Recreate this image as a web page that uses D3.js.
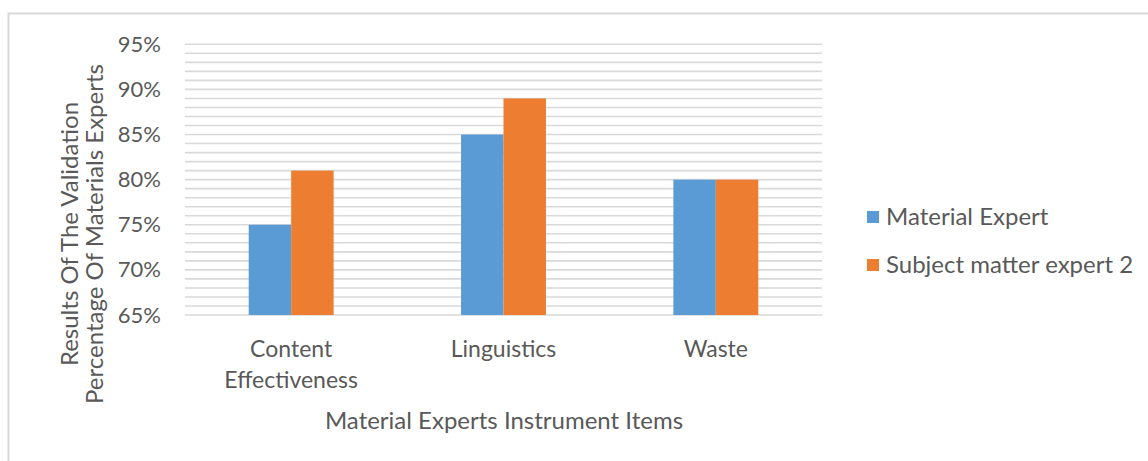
<!DOCTYPE html>
<html><head><meta charset="utf-8">
<script src="https://cdn.jsdelivr.net/npm/d3@7"></script>
<style>body{margin:0;background:#fff;} text{font-family:Lato, "Open Sans", sans-serif; fill:#595959;}</style>
</head><body>
<svg id="c" width="1148" height="461"></svg>
<script>
const categories = [["Content","Effectiveness"],["Linguistics"],["Waste"]];
const seriesNames = ["Material Expert","Subject matter expert 2"];
const materialExpert = [0.75, 0.85, 0.80];
const subjectExpert2 = [0.81, 0.89, 0.80];
const yTicks = [0.65,0.70,0.75,0.80,0.85,0.90,0.95];
const colors = ["#5b9bd5","#ed7d31"];

const svg = d3.select("#c");
svg.append("rect").attr("x",8.5).attr("y",13.5).attr("width",1150).attr("height",460)
  .attr("fill","#fff").attr("stroke","#d9d9d9").attr("stroke-width",2);

const L=185, R=822, T=44.3, B=315;
const y = d3.scaleLinear().domain([0.65,0.95]).range([B,T]);
const keys = categories.map(c=>c.join(" "));
const x = d3.scaleBand().domain(keys).range([L,R]).paddingInner(0).paddingOuter(0);
const groupW = x.bandwidth()/2.5;
const x1 = d3.scaleBand().domain([0,1]).range([0,groupW]);

// minor gridlines every 1%
const grid = d3.range(65,96).map(v=>v/100);
svg.append("g").selectAll("line").data(grid).join("line")
  .attr("x1",L).attr("x2",R).attr("y1",d=>y(d)).attr("y2",d=>y(d))
  .attr("stroke","#d9d9d9").attr("stroke-width",1.6);

// bars
const data = keys.map((k,i)=>({k, v:[materialExpert[i], subjectExpert2[i]]}));
const g = svg.append("g").selectAll("g").data(data).join("g")
  .attr("transform",d=>`translate(${x(d.k)+(x.bandwidth()-groupW)/2},0)`);
g.selectAll("rect").data(d=>d.v.map((v,j)=>({v,j}))).join("rect")
  .attr("x",d=>x1(d.j)).attr("width",x1.bandwidth())
  .attr("y",d=>y(d.v)).attr("height",d=>B-y(d.v)).attr("fill",d=>colors[d.j]);

// y axis
const yAxis = d3.axisLeft(y).tickValues(yTicks).tickFormat(d3.format(".0%")).tickSize(0).tickPadding(0);
const ya = svg.append("g").attr("transform",`translate(161,0)`).call(yAxis);
ya.select(".domain").remove();
ya.selectAll("text").attr("font-size",22).attr("fill","#595959").style("font-family","Lato");

// x labels
const xl = svg.append("g").selectAll("text").data(categories).join("text")
  .attr("x",(d,i)=>x(keys[i])+x.bandwidth()/2).attr("y",357)
  .attr("text-anchor","middle").attr("font-size",23);
xl.selectAll("tspan").data(d=>d).join("tspan")
  .attr("x",function(){return this.parentNode.getAttribute("x");})
  .attr("dy",(d,i)=>i===0?0:31).text(d=>d);

// x title
svg.append("text").attr("x",504).attr("y",429).attr("text-anchor","middle")
  .attr("font-size",24).text("Material Experts Instrument Items");

// y title
const yt = svg.append("text").attr("transform","translate(78,234) rotate(-90)")
  .attr("text-anchor","middle").attr("font-size",24);
yt.append("tspan").attr("x",0).attr("y",0).text("Results Of The Validation");
yt.append("tspan").attr("x",0).attr("y",25).text("Percentage Of Materials Experts");

// legend
const lg = svg.append("g").selectAll("g").data(seriesNames).join("g")
  .attr("transform",(d,i)=>`translate(867,${211+i*48})`);
lg.append("rect").attr("width",12).attr("height",12).attr("fill",(d,i)=>colors[i]);
lg.append("text").attr("x",19).attr("y",14).attr("font-size",24).text(d=>d);
</script>
</body></html>
